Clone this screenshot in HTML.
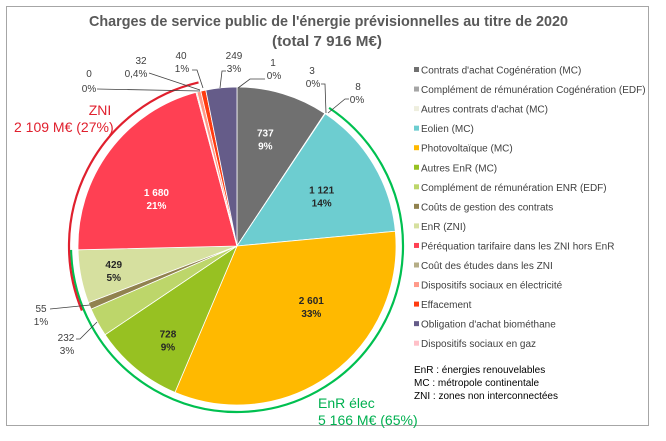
<!DOCTYPE html>
<html><head><meta charset="utf-8">
<style>
html,body{margin:0;padding:0;background:#fff;}
svg{display:block;font-family:"Liberation Sans",sans-serif;}
</style></head>
<body>
<svg width="666" height="441" viewBox="0 0 666 441">
<rect x="6.5" y="6.5" width="642" height="419" fill="#fff" stroke="#a6a6a6" stroke-width="1"/>
<text x="89" y="26" textLength="479" lengthAdjust="spacingAndGlyphs" font-size="15" font-weight="bold" fill="#595959">Charges de service public de l'énergie prévisionnelles au titre de 2020</text>
<text x="272" y="46" textLength="110" lengthAdjust="spacingAndGlyphs" font-size="15" font-weight="bold" fill="#595959">(total 7 916 M€)</text>
<g id="slices"></g>
<g id="arcs"></g>
<g id="inlabels"></g>
<g id="outlabels" font-size="10" fill="#404040" text-anchor="middle">
  <text><tspan x="89" y="77">0</tspan><tspan x="89" y="92">0%</tspan></text>
  <polyline points="97,89 200,91" fill="none" stroke="#404040" stroke-width="0.8"/>
  <text><tspan x="141" y="64">32</tspan><tspan x="136" y="77">0,4%</tspan></text>
  <polyline points="149,73 200,90" fill="none" stroke="#404040" stroke-width="0.8"/>
  <text><tspan x="181" y="59">40</tspan><tspan x="182" y="72">1%</tspan></text>
  <polyline points="192,70 197,70 203,88" fill="none" stroke="#404040" stroke-width="0.8"/>
  <text><tspan x="234" y="59">249</tspan><tspan x="234" y="72">3%</tspan></text>
  <polyline points="226,71 222,71 220,88" fill="none" stroke="#404040" stroke-width="0.8"/>
  <text><tspan x="273" y="66">1</tspan><tspan x="274" y="79">0%</tspan></text>
  <polyline points="265,79 250,79 238,88" fill="none" stroke="#404040" stroke-width="0.8"/>
  <text><tspan x="312" y="74">3</tspan><tspan x="313" y="87">0%</tspan></text>
  <polyline points="321,84 325,84 326,113" fill="none" stroke="#404040" stroke-width="0.8"/>
  <text><tspan x="358" y="90">8</tspan><tspan x="357" y="103">0%</tspan></text>
  <polyline points="349,99 345,99 328,113" fill="none" stroke="#404040" stroke-width="0.8"/>
  <text><tspan x="41" y="312">55</tspan><tspan x="41" y="325">1%</tspan></text>
  <polyline points="50,309 90,305" fill="none" stroke="#404040" stroke-width="0.8"/>
  <text><tspan x="66" y="341">232</tspan><tspan x="67" y="354">3%</tspan></text>
  <polyline points="76,339 80,339 97,322" fill="none" stroke="#404040" stroke-width="0.8"/>
</g>
<text font-size="14" fill="#e0202e"><tspan x="100" y="115" text-anchor="middle">ZNI</tspan><tspan x="14" y="132">2 109 M€ (27%)</tspan></text>
<text font-size="14" fill="#00b050"><tspan x="318" y="408">EnR  élec</tspan><tspan x="318" y="425">5 166 M€ (65%)</tspan></text>
<g id="legend" font-size="10" fill="#404040"></g>
<g font-size="10" fill="#000">
  <text x="414" y="373">EnR : énergies renouvelables</text>
  <text x="414" y="386">MC : métropole continentale</text>
  <text x="414" y="399">ZNI : zones non interconnectées</text>
</g>
</svg>
<script>
const categories=["Contrats d'achat Cogénération (MC)","Complément de rémunération Cogénération (EDF)","Autres contrats d'achat (MC)","Eolien (MC)","Photovoltaïque (MC)","Autres EnR (MC)","Complément de rémunération ENR (EDF)","Coûts de gestion des contrats","EnR (ZNI)","Péréquation tarifaire dans les ZNI hors EnR","Coût des études dans les ZNI","Dispositifs sociaux en électricité","Effacement","Obligation d'achat biométhane","Dispositifs sociaux en gaz"];
const values=[737,1,3,1121,2601,728,232,55,429,1680,8,32,40,249,0];
const valueLabels=["737","1","3","1 121","2 601","728","232","55","429","1 680","8","32","40","249","0"];
const percentLabels=["9%","0%","0%","14%","33%","9%","3%","1%","5%","21%","0%","0,4%","1%","3%","0%"];
const colors=["#707070","#a5a5a5","#eeeede","#6dcdd0","#ffb900","#97c122","#bdd66a","#91824f","#d6e09f","#ff4053","#b5ad86","#ff9a8a","#ff3b10","#655c89","#ffc0c8"];
const insideShown=[0,3,4,5,8,9];
const insideRadius={0:0.70,3:0.62,4:0.60,5:0.73,8:0.79,9:0.59};
const insideAngleShift={0:-2,3:0,4:-15,5:-3,8:0,9:-6};
const enrGroup=[3,8];
const zniGroup=[8,9];
const NS="http://www.w3.org/2000/svg";
const cx=237,cy=246,R=159;
const total=values.reduce((a,b)=>a+b,0);
function ang(v){return v/total*2*Math.PI;}
function pt(a,r){return [cx+r*Math.sin(a),cy-r*Math.cos(a)];}
function arcPath(a0,a1,r){const p0=pt(a0,r),p1=pt(a1,r);const big=(a1-a0)>Math.PI?1:0;return `M${p0[0]},${p0[1]} A${r},${r} 0 ${big} 1 ${p1[0]},${p1[1]}`;}
const starts=[];let acc=0;values.forEach(v=>{starts.push(acc);acc+=v;});
const gS=document.getElementById('slices');
values.forEach((v,i)=>{
  const a0=ang(starts[i]),a1=ang(starts[i]+v);
  const p=document.createElementNS(NS,'path');
  const c0=pt(a0,R),c1=pt(a1,R);
  const big=(a1-a0)>Math.PI?1:0;
  p.setAttribute('d', v>0?`M${cx},${cy} L${c0[0]},${c0[1]} A${R},${R} 0 ${big} 1 ${c1[0]},${c1[1]} Z`:`M${cx},${cy}`);
  p.setAttribute('fill',colors[i]);
  p.setAttribute('stroke','#fff');
  p.setAttribute('stroke-width','0.8');
  
  
  gS.appendChild(p);
});
const gA=document.getElementById('arcs');
function groupArc(g,r,col,name,pad){
  const a0=ang(starts[g[0]])-pad,a1=ang(starts[g[1]]+values[g[1]])+pad;
  const p=document.createElementNS(NS,'path');
  p.setAttribute('d',arcPath(a0,a1,r));
  p.setAttribute('fill','none');p.setAttribute('stroke',col);p.setAttribute('stroke-width','2.2');
  
  
  gA.appendChild(p);
}
groupArc(enrGroup,166,'#00c050','enr-group-arc',0);
groupArc(zniGroup,168,'#e0202e','zni-group-arc',0.03);
const gI=document.getElementById('inlabels');
insideShown.forEach(i=>{
  const m=ang(starts[i]+values[i]/2)+insideAngleShift[i]*Math.PI/180;
  const p=pt(m,R*insideRadius[i]);
  const t=document.createElementNS(NS,'text');
  t.setAttribute('text-anchor','middle');t.setAttribute('font-size','10');t.setAttribute('font-weight','bold');
  t.setAttribute('fill',(i===0||i===9)?'#fff':'#262626');
  
  
  t.innerHTML=`<tspan x="${p[0]}" y="${p[1]-2}">${valueLabels[i]}</tspan><tspan x="${p[0]}" y="${p[1]+11}">${percentLabels[i]}</tspan>`;
  gI.appendChild(t);
});
const gL=document.getElementById('legend');
categories.forEach((c,i)=>{
  const y=70+i*19.55;
  const r=document.createElementNS(NS,'rect');
  r.setAttribute('x',414);r.setAttribute('y',y-3);r.setAttribute('width',5);r.setAttribute('height',5);r.setAttribute('fill',colors[i]);
  
  
  gL.appendChild(r);
  const t=document.createElementNS(NS,'text');
  t.setAttribute('x',421);t.setAttribute('y',y+3.5);t.textContent=c;
  
  
  gL.appendChild(t);
});
</script>
</body></html>
